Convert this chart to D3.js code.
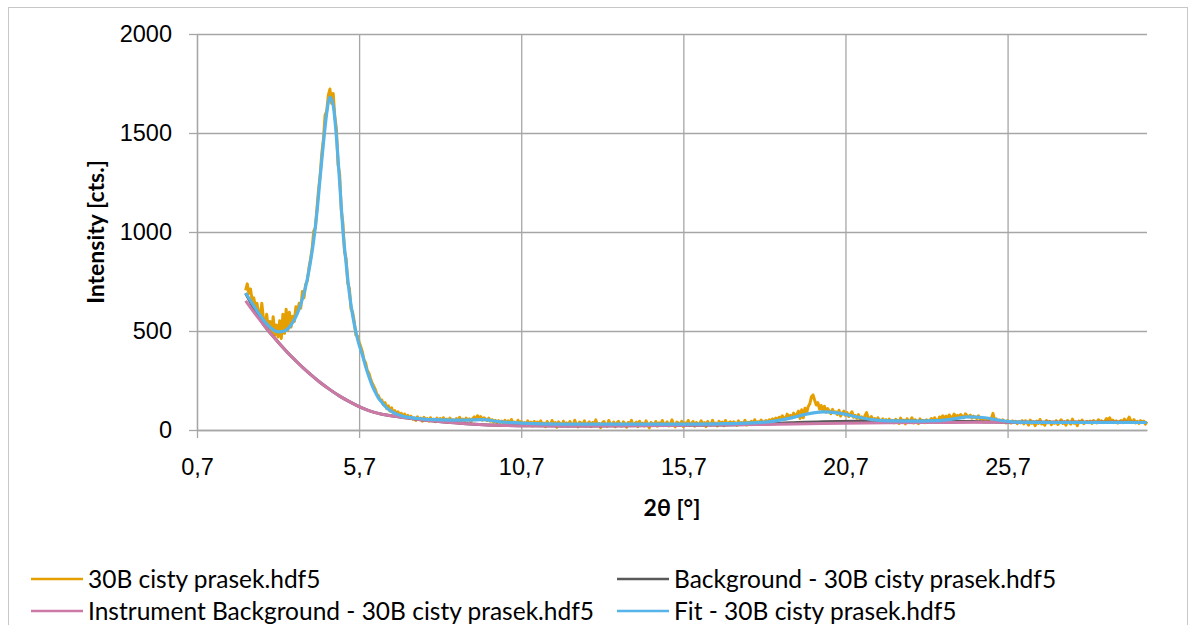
<!DOCTYPE html>
<html>
<head>
<meta charset="utf-8">
<script src="https://cdn.jsdelivr.net/npm/d3@7"></script>
<style>
  body { margin: 0; background: #fff; }
  svg { display: block; font-family: Lato, "Open Sans", sans-serif; }
  .grid line { stroke: #a6a6a6; stroke-width: 1.3; }
  .grid .domain { display: none; }
  .axis .domain, .axis line { stroke: #a6a6a6; stroke-width: 1.3; }
  .axis text { font-size: 23.5px; fill: #000; }
  .title { font-size: 23px; font-weight: bold; fill: #000; }
  .legend text { font-size: 24.5px; fill: #000; }
  .series { fill: none; stroke-linejoin: round; }
</style>
</head>
<body>
<svg width="1190" height="625"></svg>
<script>
var scanStart = 2.2, scanStep = 0.05;
var rawCounts = [
  705, 738, 690, 712, 655, 668, 625, 640, 588, 572, 640, 560, 528, 585, 505, 548, 492, 572, 478, 530,
  470, 552, 462, 585, 488, 610, 505, 595, 520, 575, 548, 622, 598, 640, 615, 700, 668, 735, 752, 815,
  862, 915, 1005, 1020, 1120, 1215, 1290, 1400, 1470, 1590, 1610, 1690, 1722, 1650, 1700, 1585, 1520, 1340, 1290, 1110,
  1045, 900, 865, 740, 715, 612, 595, 548, 480, 475, 445, 420, 395, 355, 340, 302, 288, 262, 238, 222,
  205, 180, 172, 150, 152, 128, 138, 108, 122, 96, 112, 88, 98, 78, 92, 70, 84, 66, 80, 62,
  74, 58, 70, 55, 62, 48, 66, 52, 60, 45, 64, 50, 58, 44, 62, 48, 55, 42, 60, 46,
  58, 44, 62, 46, 55, 40, 60, 48, 52, 42, 58, 45, 64, 47, 55, 41, 60, 50, 56, 43,
  57, 66, 52, 72, 58, 68, 50, 62, 55, 48, 60, 44, 52, 40, 49, 36, 47, 38, 45, 34,
  49, 30, 46, 26, 53, 35, 40, 24, 49, 32, 43, 26, 38, 22, 46, 29, 40, 20, 43, 26,
  40, 22, 46, 27, 35, 17, 43, 30, 24, 48, 28, 38, 14, 41, 32, 20, 44, 25, 36, 19,
  43, 28, 22, 49, 30, 16, 40, 35, 25, 46, 20, 32, 41, 17, 38, 27, 51, 24, 33, 12,
  36, 43, 25, 19, 48, 30, 24, 40, 16, 35, 44, 27, 20, 41, 32, 14, 38, 28, 49, 22,
  30, 40, 17, 44, 25, 35, 20, 46, 28, 11, 38, 32, 24, 43, 19, 36, 27, 48, 22, 33,
  41, 20, 30, 51, 25, 16, 40, 35, 24, 44, 17, 36, 28, 48, 22, 32, 43, 19, 38, 27,
  33, 46, 24, 38, 17, 43, 30, 25, 49, 28, 35, 20, 44, 32, 40, 22, 48, 27, 36, 41,
  27, 41, 35, 24, 46, 31, 38, 29, 49, 25, 39, 35, 44, 30, 52, 33, 42, 38, 50, 36,
  42, 48, 39, 52, 45, 56, 48, 60, 52, 64, 58, 72, 62, 55, 80, 68, 74, 62, 85, 70,
  80, 95, 58, 102, 62, 110, 85, 118, 132, 168, 177, 150, 126, 138, 105, 124, 98, 120, 90, 108,
  96, 82, 104, 88, 92, 78, 100, 70, 86, 95, 74, 88, 68, 80, 92, 64, 74, 60, 78, 55,
  66, 50, 72, 88, 62, 55, 68, 48, 58, 45, 62, 50, 42, 56, 46, 52, 40, 55, 44, 48,
  36, 54, 45, 33, 60, 42, 50, 31, 57, 39, 47, 62, 35, 52, 43, 32, 56, 40, 49, 37,
  52, 40, 48, 58, 45, 62, 50, 44, 66, 55, 72, 60, 70, 58, 76, 65, 62, 80, 68, 74,
  66, 78, 70, 62, 82, 72, 66, 75, 60, 70, 64, 58, 72, 55, 62, 50, 58, 54, 46, 56,
  60, 84, 48, 56, 42, 50, 38, 52, 44, 36, 48, 40, 35, 46, 38, 44, 32, 42, 36, 47,
  31, 47, 37, 25, 50, 34, 42, 22, 45, 33, 53, 30, 39, 24, 48, 36, 44, 27, 40, 34,
  47, 28, 38, 52, 33, 42, 24, 48, 36, 30, 55, 34, 41, 22, 45, 38, 50, 32, 39, 44,
  37, 45, 33, 48, 40, 36, 52, 42, 46, 38, 44, 58, 47, 62, 41, 50, 39, 46, 35, 43,
  48, 37, 55, 42, 50, 65, 46, 40, 52, 36, 44, 33, 47, 39, 45, 30, 42
];

// Background
var bgX = [2.2, 2.35, 2.5, 2.8, 3.0, 3.26, 3.5, 3.8, 4.0, 4.2, 4.5, 4.8, 5.1, 5.4, 5.7, 6.0, 6.2, 6.4, 6.86, 7.2,
           7.6, 8.0, 8.4, 9.0, 9.4, 10, 11, 12, 14, 16, 18, 19, 20, 21, 22, 23, 24, 25, 26, 28, 30];
var bgY = [690, 645, 600, 522, 482, 433, 390, 341, 310, 281, 240, 204, 171, 143, 118, 98, 88, 80, 68, 60,
           52, 45, 39, 32, 28, 24, 21, 20, 21, 24, 29, 36, 42, 44, 44, 44, 44, 41, 39, 39, 38];

// Instrument Background
var ibX = [2.2, 2.5, 2.8, 3.0, 3.26, 3.5, 3.8, 4.0, 4.2, 4.5, 4.8, 5.1, 5.4, 5.7, 6.0, 6.2, 6.4, 6.86, 7.2, 7.6,
           8.0, 8.4, 9.0, 9.4, 10, 11, 12, 14, 16, 18, 20, 22, 24, 26, 28, 30];
var ibY = [652, 585, 522, 482, 433, 390, 341, 310, 281, 240, 204, 171, 143, 118, 98, 88, 80, 68, 60, 52,
           45, 39, 32, 28, 24, 21, 20, 21, 24, 28, 33, 36, 38, 39, 39, 38];

// Fit
var fitX = [2.2, 2.4, 2.6, 2.8, 3.0, 3.2, 3.4, 3.6, 3.8, 4.0, 4.1, 4.2, 4.3, 4.4, 4.5, 4.6, 4.7, 4.8, 4.9, 5.0,
            5.1, 5.2, 5.3, 5.4, 5.5, 5.6, 5.7, 5.8, 5.9, 6.0, 6.1, 6.2, 6.3, 6.4, 6.5, 6.6, 6.8, 7.0, 7.5, 8.0,
            8.5, 9.0, 9.5, 10.0, 10.7, 12, 14, 16, 17, 18, 18.5, 19, 19.5, 20, 20.5, 21, 21.5, 22, 23, 23.5,
            24, 24.5, 25, 25.5, 26, 27, 28, 29, 30];
var fitY = [692, 640, 590, 545, 512, 496, 500, 530, 590, 690, 760, 850, 960, 1100, 1280, 1450, 1600, 1680, 1640, 1480,
            1250, 1010, 840, 690, 580, 495, 430, 380, 320, 270, 225, 190, 160, 140, 120, 105, 85, 72, 58, 52,
            50, 50, 52, 42, 35, 30, 30, 30, 32, 37, 45, 60, 80, 92, 85, 68, 52, 46, 45, 47,
            55, 66, 62, 48, 40, 38, 38, 38, 38];

var xTicks = [0.7, 5.7, 10.7, 15.7, 20.7, 25.7];
var yTicks = [0, 500, 1000, 1500, 2000];

var seriesNames = ["30B cisty prasek.hdf5", "Background - 30B cisty prasek.hdf5",
                   "Instrument Background - 30B cisty prasek.hdf5", "Fit - 30B cisty prasek.hdf5"];
var seriesColors = ["#E69F00", "#595959", "#CC79A7", "#56B4E9"];

var svg = d3.select("svg"),
    margin = {top: 34, right: 43, bottom: 195, left: 197},
    width = +svg.attr("width") - margin.left - margin.right,
    height = +svg.attr("height") - margin.top - margin.bottom;

// chart area border
svg.append("rect")
    .attr("x", 8.5).attr("y", 7.5)
    .attr("width", 1179).attr("height", 630)
    .attr("fill", "none")
    .attr("stroke", "#c8c8c8");

var x = d3.scaleLinear().domain([0.7, 30.0]).range([0, width]);
var y = d3.scaleLinear().domain([0, 2000]).range([height, 0]);

var g = svg.append("g")
    .attr("transform", "translate(" + margin.left + "," + margin.top + ")");

// gridlines
g.append("g")
    .attr("class", "grid")
    .call(d3.axisLeft(y).tickValues(yTicks).tickSize(-width).tickFormat(""));
g.append("g")
    .attr("class", "grid")
    .call(d3.axisBottom(x).tickValues(xTicks).tickSize(height).tickFormat(""));

var comma = function(d) { return d.toFixed(1).replace(".", ","); };

g.append("g")
    .attr("class", "axis axis--x")
    .attr("transform", "translate(0," + height + ")")
    .call(d3.axisBottom(x).tickValues(xTicks).tickSizeInner(8).tickSizeOuter(0).tickPadding(20).tickFormat(comma));

g.append("g")
    .attr("class", "axis axis--y")
    .call(d3.axisLeft(y).tickValues(yTicks).tickSizeInner(8).tickSizeOuter(0).tickPadding(17).tickFormat(d3.format("d")));

// axis titles
g.append("text")
    .attr("class", "title")
    .attr("x", width / 2)
    .attr("y", height + 78)
    .attr("dy", "0.35em")
    .attr("text-anchor", "middle")
    .text("2θ [°]");

g.append("text")
    .attr("class", "title")
    .attr("transform", "rotate(-90)")
    .attr("x", -height / 2)
    .attr("y", 96 - margin.left)
    .attr("dy", "0.35em")
    .attr("text-anchor", "middle")
    .text("Intensity [cts.]");

// series
var scan = rawCounts.map(function(c, i) { return {x: scanStart + i * scanStep, y: c}; });
var zipXY = function(xs, ys) { return xs.map(function(v, i) { return {x: v, y: ys[i]}; }); };

var rawLine = d3.line()
    .x(function(d) { return x(d.x); })
    .y(function(d) { return y(d.y); });

var smoothLine = d3.line()
    .curve(d3.curveMonotoneX)
    .x(function(d) { return x(d.x); })
    .y(function(d) { return y(d.y); });

g.append("path")
    .datum(scan)
    .attr("class", "series")
    .attr("stroke", seriesColors[0])
    .attr("stroke-width", 3)
    .attr("d", rawLine);

g.append("path")
    .datum(zipXY(bgX, bgY))
    .attr("class", "series")
    .attr("stroke", seriesColors[1])
    .attr("stroke-width", 3)
    .attr("d", smoothLine);

g.append("path")
    .datum(zipXY(ibX, ibY))
    .attr("class", "series")
    .attr("stroke", seriesColors[2])
    .attr("stroke-width", 3)
    .attr("d", smoothLine);

g.append("path")
    .datum(zipXY(fitX, fitY))
    .attr("class", "series")
    .attr("stroke", seriesColors[3])
    .attr("stroke-width", 3.2)
    .attr("d", smoothLine);

// legend, two columns
var legendPos = [[31, 579], [617, 579], [31, 611], [617, 611]];
var legend = svg.append("g").attr("class", "legend");
seriesNames.forEach(function(name, i) {
  var p = legendPos[i];
  legend.append("line")
      .attr("x1", p[0]).attr("x2", p[0] + 52)
      .attr("y1", p[1]).attr("y2", p[1])
      .attr("stroke", seriesColors[i])
      .attr("stroke-width", 2.6);
  legend.append("text")
      .attr("x", p[0] + 57)
      .attr("y", p[1])
      .attr("dy", "0.35em")
      .text(name);
});
</script>
</body>
</html>
